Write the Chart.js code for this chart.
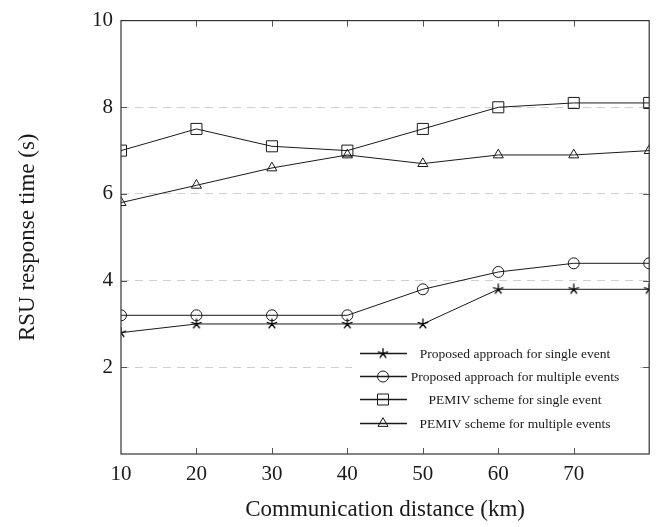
<!DOCTYPE html>
<html>
<head>
<meta charset="utf-8">
<script src="https://cdn.jsdelivr.net/npm/chart.js@4/dist/chart.umd.min.js"></script>
<style>
  html, body { margin: 0; padding: 0; background: #fff; }
  #wrap { width: 658px; height: 527px; }
</style>
</head>
<body>
<div id="wrap"><canvas id="theChart" width="658" height="527"></canvas></div>
<script>
const distances = [10, 20, 30, 40, 50, 60, 70, 80]
const proposedSingle = [2.8, 3.0, 3.0, 3.0, 3.0, 3.8, 3.8, 3.8]
const proposedMultiple = [3.2, 3.2, 3.2, 3.2, 3.8, 4.2, 4.4, 4.4]
const pemivSingle = [7.0, 7.5, 7.1, 7.0, 7.5, 8.0, 8.1, 8.1]
const pemivMultiple = [5.8, 6.2, 6.6, 6.9, 6.7, 6.9, 6.9, 7.0]
const seriesNames = [
  "Proposed approach for single event",
  "Proposed approach for multiple events",
  "PEMIV scheme for single event",
  "PEMIV scheme for multiple events"
]
const xTicks = [10, 20, 30, 40, 50, 60, 70]
const yTicks = [2, 4, 6, 8, 10]

const ink = "#1a1a1a"
const serif = "'Liberation Serif', 'DejaVu Serif', serif"

// 5-spoke star, like the pgfplots "star" mark
function makeStar(size) {
  const c = document.createElement("canvas")
  c.width = size; c.height = size
  const g = c.getContext("2d")
  const r = size / 2 - 0.5
  g.strokeStyle = "#000"
  g.lineWidth = 1.3
  g.beginPath()
  for (let i = 0; i < 5; i++) {
    const a = -Math.PI / 2 + i * 2 * Math.PI / 5
    g.moveTo(size / 2, size / 2)
    g.lineTo(size / 2 + r * Math.cos(a), size / 2 + r * Math.sin(a))
  }
  g.stroke()
  return c
}
const starImg = makeStar(12)

const toPoints = (vals) => vals.map((v, i) => ({ x: distances[i], y: v }))

const markers = [
  { style: starImg, radius: 5 },
  { style: "circle", radius: 5.5 },
  { style: "rect", radius: 7.8 },
  { style: "triangle", radius: 5.8 }
]
const allSeries = [proposedSingle, proposedMultiple, pemivSingle, pemivMultiple]

const datasets = allSeries.map((vals, i) => ({
  label: seriesNames[i],
  data: toPoints(vals),
  borderColor: ink,
  borderWidth: 1,
  pointStyle: markers[i].style,
  pointRadius: markers[i].radius,
  pointHoverRadius: markers[i].radius,
  pointBorderColor: ink,
  pointBorderWidth: 1,
  pointBackgroundColor: "rgba(0,0,0,0)",
  tension: 0
}))

// frame on all four sides + inward tick marks
const framePlugin = {
  id: "frame",
  afterDatasetsDraw(chart) {
    const { ctx, chartArea: a, scales } = chart
    ctx.save()
    ctx.strokeStyle = "#555"
    ctx.lineWidth = 1
    ctx.beginPath()
    xTicks.slice(1).forEach((t) => {
      const px = Math.round(scales.x.getPixelForValue(t)) + 0.5
      ctx.moveTo(px, a.bottom); ctx.lineTo(px, a.bottom - 6)
      ctx.moveTo(px, a.top); ctx.lineTo(px, a.top + 6)
    })
    yTicks.slice(0, -1).forEach((t) => {
      const py = Math.round(scales.y.getPixelForValue(t)) + 0.5
      ctx.moveTo(a.left, py); ctx.lineTo(a.left + 6, py)
      ctx.moveTo(a.right, py); ctx.lineTo(a.right - 6, py)
    })
    ctx.stroke()
    ctx.strokeStyle = "#333"
    ctx.lineWidth = 1.2
    ctx.strokeRect(a.left, a.top, a.right - a.left, a.bottom - a.top)
    ctx.restore()
  }
}

// legend drawn inside the plot, lower right
const legendPlugin = {
  id: "insideLegend",
  afterDraw(chart) {
    const { ctx } = chart
    const rows = [353, 376, 399, 423]
    ctx.save()
    ctx.fillStyle = "#fff"
    ctx.fillRect(352, 339, 288, 98)
    ctx.strokeStyle = ink
    ctx.fillStyle = ink
    ctx.font = "13.5px " + serif
    ctx.textAlign = "center"
    ctx.textBaseline = "middle"
    rows.forEach((y, i) => {
      ctx.lineWidth = 1.6
      ctx.beginPath()
      ctx.moveTo(360, y + 0.5); ctx.lineTo(407, y + 0.5)
      ctx.stroke()
      ctx.lineWidth = 1
      const mx = 383, my = y + 0.5
      ctx.beginPath()
      if (i === 0) {
        ctx.drawImage(starImg, mx - 6, my - 6)
      } else if (i === 1) {
        ctx.arc(mx, my, 5.5, 0, Math.PI * 2); ctx.stroke()
      } else if (i === 2) {
        ctx.rect(mx - 5.5, my - 5.5, 11, 11); ctx.stroke()
      } else {
        ctx.moveTo(mx, my - 5.8); ctx.lineTo(mx + 5, my + 2.9); ctx.lineTo(mx - 5, my + 2.9)
        ctx.closePath(); ctx.stroke()
      }
      ctx.fillText(seriesNames[i], 515, y + 1)
    })
    ctx.restore()
  }
}

const ctx = document.getElementById("theChart")
new Chart(ctx, {
  type: "line",
  data: { datasets },
  options: {
    responsive: false,
    animation: false,
    events: [],
    layout: { padding: { left: 0, right: 3, top: 16, bottom: 0 } },
    plugins: { legend: { display: false }, tooltip: { enabled: false } },
    scales: {
      x: {
        type: "linear",
        min: 10, max: 80,
        afterFit: (s) => { s.height = 73 },
        afterBuildTicks: (s) => { s.ticks = distances.map((v) => ({ value: v })) },
        grid: { display: false, drawTicks: false },
        border: { display: false },
        ticks: {
          padding: 8,
          color: ink,
          font: { family: serif, size: 21 },
          maxRotation: 0,
          callback: (v) => xTicks.includes(v) ? String(v) : ""
        },
        title: {
          display: true,
          text: "Communication distance (km)",
          color: ink,
          font: { family: serif, size: 23 },
          padding: { top: 0, bottom: 3 }
        }
      },
      y: {
        min: 0, max: 10,
        afterFit: (s) => { s.width = 121 },
        afterBuildTicks: (s) => { s.ticks = [0].concat(yTicks).map((v) => ({ value: v })) },
        grid: {
          drawTicks: false,
          color: (c) => (c.tick && c.tick.value > 0 && c.tick.value < 10) ? "#cfcfcf" : "rgba(0,0,0,0)",
          lineWidth: 1
        },
        border: { display: false, dash: [8, 6] },
        ticks: {
          padding: 8,
          color: ink,
          font: { family: serif, size: 21 },
          callback: (v) => yTicks.includes(v) ? String(v) : ""
        },
        title: {
          display: true,
          text: "RSU response time (s)",
          color: ink,
          font: { family: serif, size: 23 },
          padding: { top: 14, bottom: 0 }
        }
      }
    }
  },
  plugins: [framePlugin, legendPlugin]
})
</script>
</body>
</html>
